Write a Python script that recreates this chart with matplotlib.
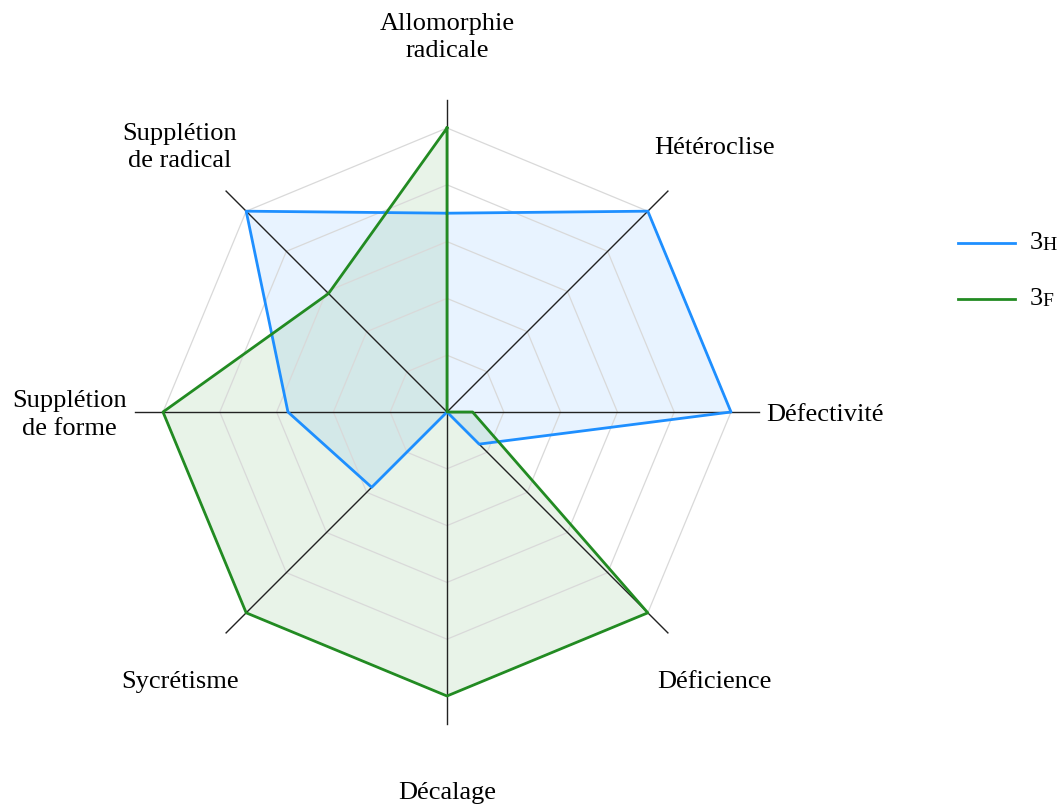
import numpy as np
import matplotlib
matplotlib.use("Agg")
import matplotlib.pyplot as plt

categories = ["Allomorphie\nradicale", "Hétéroclise", "Défectivité", "Déficience",
              "Décalage", "Sycrétisme", "Supplétion\nde forme", "Supplétion\nde radical"]
series_names = ["3H", "3F"]
values_3h = [0.70, 1.00, 1.00, 0.16, 0.00, 0.375, 0.56, 1.00]
values_3f = [1.00, 0.00, 0.09, 1.00, 1.00, 1.00, 1.00, 0.59]
colors = ["#1E8FFF", "#228B22"]
n_rings = 5

plt.rcParams['font.family'] = ['Liberation Serif', 'DejaVu Serif']

W, H = 1061, 805
cx, cy, R = 447, 412, 284
fig = plt.figure(figsize=(W / 100, H / 100), dpi=100)
ax = fig.add_axes([0, 0, 1, 1])
ax.set_xlim(-cx / R, (W - cx) / R)
ax.set_ylim(-(H - cy) / R, cy / R)
ax.axis('off')

n = len(categories)
angles = np.pi / 2 - np.arange(n) * 2 * np.pi / n

# series fills
for vals, col in zip([values_3h, values_3f], colors):
    v = np.array(vals)
    xs = np.append(v * np.cos(angles), v[0] * np.cos(angles[0]))
    ys = np.append(v * np.sin(angles), v[0] * np.sin(angles[0]))
    ax.fill(xs, ys, color=col, alpha=0.1, lw=0, zorder=1)

# grid rings
for k in range(1, n_rings + 1):
    r = k / n_rings
    xs = np.append(r * np.cos(angles), r * np.cos(angles[0]))
    ys = np.append(r * np.sin(angles), r * np.sin(angles[0]))
    ax.plot(xs, ys, color="#d9d9d9", lw=0.9, zorder=2)

# axes spokes
for a in angles:
    ax.plot([0, 1.1 * np.cos(a)], [0, 1.1 * np.sin(a)], color="#222222", lw=1.0, zorder=3)

# series lines
for vals, col in zip([values_3h, values_3f], colors):
    v = np.array(vals)
    xs = np.append(v * np.cos(angles), v[0] * np.cos(angles[0]))
    ys = np.append(v * np.sin(angles), v[0] * np.sin(angles[0]))
    ax.plot(xs, ys, color=col, lw=2.0, zorder=4)

# labels
dy = -3 / R
for a, lab in zip(angles, categories):
    ax.text(1.33 * np.cos(a), 1.33 * np.sin(a) + dy, lab, ha='center', va='center',
            fontsize=19, linespacing=1.3, zorder=5)

# legend (manual, with small caps)
leg_y = [243, 299]
for yy, col, name in zip(leg_y, colors, series_names):
    yf = 1 - yy / H
    fig.add_artist(plt.Line2D([958 / W, 1015 / W], [yf, yf], color=col, lw=2.0,
                              transform=fig.transFigure))
    fig.text(1030 / W, yf, name[0], fontsize=19, va='center', ha='left')
    fig.text(1042 / W, yf - 2 / H, name[1], fontsize=14, va='center', ha='left')

fig.savefig("out.png", dpi=100)
